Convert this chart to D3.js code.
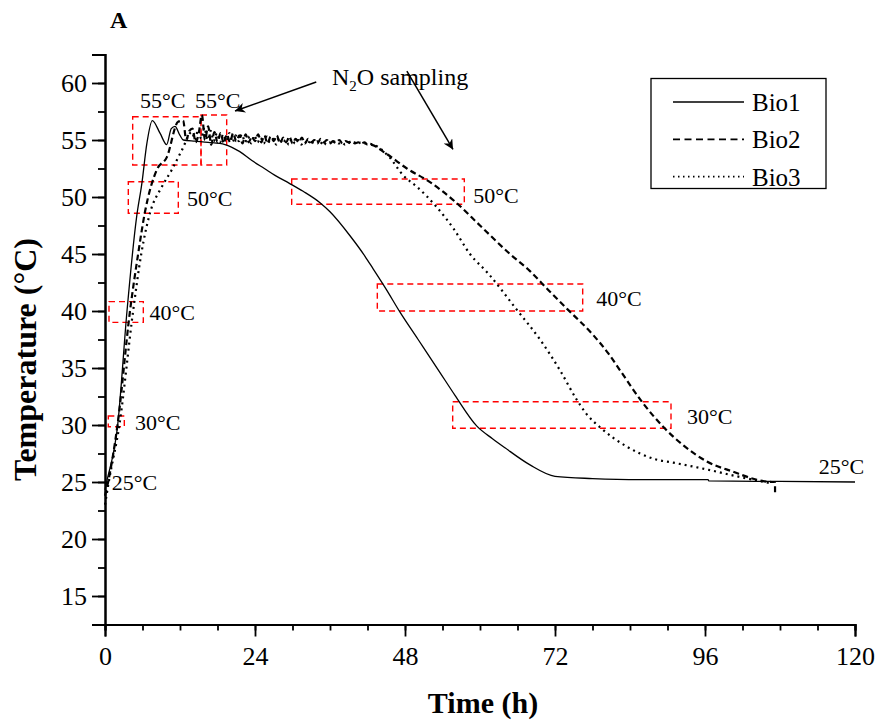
<!DOCTYPE html>
<html>
<head>
<meta charset="utf-8">
<script src="https://cdn.jsdelivr.net/npm/d3@7"></script>
<style>
  html, body { margin: 0; padding: 0; background: #fff; }
  svg { display: block; font-family: "Liberation Serif", "Times New Roman", serif; }
</style>
</head>
<body>
<svg id="chart" width="876" height="724"></svg>
<script>
// ---------------- DATA ----------------
const seriesNames = ["Bio1", "Bio2", "Bio3"];

const bio1Time = [0, 0.27, 2.03, 3.52, 5.07, 5.9, 6.7, 7.57, 8.8, 9.87, 10.6, 11.2, 12.0, 12.53, 14.4, 16.5, 19.2, 21.5, 23.5, 25.5, 27.2, 29.5, 31.7, 34.4, 36, 39.2, 41.6, 42.9, 45, 47.2, 50.1, 53.6, 56, 59.5, 62, 64.0, 68, 72, 78, 85.6, 96.5, 96.6, 108, 120];
const bio1Temp = [24.3, 25.0, 30.0, 40.0, 48.3, 51.2, 54.7, 56.7, 55.6, 54.6, 56.0, 56.2, 55.4, 55.0, 54.9, 54.8, 54.6, 54.0, 53.2, 52.5, 51.9, 51.2, 50.5, 49.5, 48.7, 46.6, 44.8, 43.7, 41.9, 39.9, 37.5, 34.6, 32.6, 29.9, 28.8, 28.0, 26.5, 25.5, 25.3, 25.2, 25.2, 25.1, 25.05, 25.0];

const bio2Time = [0, 0.5, 2.0, 4.0, 5.3, 6.4, 8.3, 9.9, 11.7, 12.5,
  13.0, 13.5, 14.0, 14.5, 15.0, 15.5, 16.0, 16.5, 17.0, 17.5, 18.0, 18.5, 19.0, 19.5, 20.0, 20.5, 21.0, 21.5, 22.0, 22.5,
  23.0, 23.5, 24.0, 24.5, 25.0, 25.5, 26.0, 26.5, 27.0, 27.5, 28.0, 28.5, 29.0, 29.5, 30.0, 30.5, 31.0, 31.5, 32.0, 32.5,
  33.0, 33.5, 34.0, 34.5, 35.0, 35.5, 36.0, 36.5, 37.0, 37.5, 38.0, 38.5, 39.0, 39.5, 40.0, 40.5, 41.0, 41.5, 42.0, 42.4,
  45, 48.3, 52, 56, 60, 64.8, 68, 71, 74.1, 78.1, 80.5, 82.4, 86.1, 89.3, 92.8, 96.3, 100.5, 104.3, 106.7, 107.2, 107.21];
const bio2Temp = [23.8, 25.0, 30.0, 40.0, 45.0, 48.7, 52.4, 53.5, 56.6, 56.7,
  55.0, 55.8, 56.0, 54.8, 55.6, 57.2, 55.0, 56.2, 54.6, 55.7, 54.8, 55.6, 54.7, 55.5, 54.8, 55.6, 54.9, 55.4, 54.7, 55.5,
  54.8, 55.3, 54.9, 55.5, 54.8, 55.4, 54.7, 55.3, 54.9, 55.4, 54.7, 55.2, 54.8, 55.3, 54.7, 55.1, 54.8, 55.2, 54.7, 55.1,
  54.8, 55.0, 54.7, 55.1, 54.8, 55.0, 54.7, 54.9, 54.8, 55.0, 54.7, 54.9, 54.8, 54.9, 54.7, 54.8, 54.7, 54.8, 54.6, 54.6,
  53.8, 52.5, 51.3, 49.6, 47.5, 45.0, 43.5, 41.8, 40.1, 37.9, 36.3, 34.8, 31.9, 29.85, 28.1, 26.8, 25.9, 25.2, 25.0, 25.0, 24.0];

const bio3Time = [0, 0.6, 2.3, 4.5, 5.8, 7.2, 9.1, 10.7, 12.3,
  13.9, 14.4, 14.9, 15.4, 15.9, 16.4, 16.9, 17.4, 17.9, 18.4, 18.9, 19.4, 19.9, 20.4, 20.9, 21.4, 21.9, 22.4, 22.9, 23.4,
  23.9, 24.4, 24.9, 25.4, 25.9, 26.4, 26.9, 27.4, 27.9, 28.4, 28.9, 29.4, 29.9, 30.4, 30.9, 31.4, 31.9, 32.4, 32.9, 33.4,
  33.9, 34.4, 34.9, 35.4, 35.9, 36.4, 36.9, 37.4, 37.9, 38.4, 38.9, 39.4, 39.9, 40.4, 40.9, 41.4, 41.9, 42.9,
  45.5, 47.7, 49.9, 53.1, 55.8, 58.4, 61.3, 65.9, 69.6, 72.8, 75.5, 77, 79.2, 83.5, 85.6, 88, 90.9, 96.3, 101.1, 106.4];
const bio3Temp = [23.0, 25.0, 30.0, 40.0, 45.0, 48.6, 50.9, 52.4, 54.1,
  55.7, 55.0, 55.9, 55.1, 56.1, 55.0, 55.8, 54.9, 55.6, 54.8, 55.5, 54.9, 55.6, 54.8, 55.4, 54.9, 55.5, 54.8, 55.3, 54.7,
  55.4, 54.8, 55.2, 54.7, 55.3, 54.8, 55.1, 54.6, 55.2, 54.7, 55.0, 54.6, 55.1, 54.7, 55.0, 54.6, 54.9, 54.6, 55.0, 54.7,
  54.9, 54.6, 54.9, 54.6, 54.8, 54.6, 54.9, 54.7, 54.8, 54.6, 54.8, 54.7, 54.8, 54.6, 54.8, 54.7, 54.7, 54.6,
  53.5, 51.9, 50.9, 49.1, 47.2, 45.0, 43.3, 40.1, 37.5, 34.8, 32.2, 31.0, 29.8, 28.1, 27.5, 27.0, 26.7, 26.1, 25.5, 24.9];

const xTickValues = [0, 24, 48, 72, 96, 120];
const yTickValues = [15, 20, 25, 30, 35, 40, 45, 50, 55, 60];

// annotation boxes: [t0, t1, Tlow, Thigh]
const boxT0 = [4.43, 15.36, 3.73, 0.64, 0.53, 29.87, 43.57, 55.63];
const boxT1 = [15.36, 19.47, 11.73, 6.13, 3.09, 57.49, 76.43, 90.56];
const boxLow = [52.81, 52.81, 48.57, 39.0, 29.85, 49.36, 40.0, 29.71];
const boxHigh = [57.04, 57.19, 51.34, 40.82, 30.79, 51.58, 42.37, 32.04];

// temperature labels
const labelText = ["55°C", "55°C", "50°C", "40°C", "30°C", "25°C", "50°C", "40°C", "30°C", "25°C"];
const labelTime = [5.6, 14.4, 13.1, 7.1, 4.8, 1.07, 58.9, 78.6, 93.1, 114.2];
const labelTemp = [57.8, 57.8, 49.2, 39.2, 29.56, 24.3, 49.5, 40.4, 30.1, 25.7];

// ---------------- CHART ----------------
const svg = d3.select("#chart");
const mLeft = 105, mRight = 855, mTop = 54.5, mBottom = 624.5;

const x = d3.scaleLinear().domain([0, 120]).range([mLeft, mRight]);
const y = d3.scaleLinear().domain([12.5, 62.5]).range([mBottom, mTop]);

const black = "#000";

// axes
const xAxisMinor = d3.axisBottom(x).tickValues(d3.range(0, 121, 6)).tickSize(6).tickFormat("");
const xAxis = d3.axisBottom(x).tickValues(xTickValues).tickSize(12).tickPadding(10).tickFormat(d3.format("d"));
const yAxisMinor = d3.axisLeft(y).tickValues(d3.range(12.5, 62.6, 2.5)).tickSize(7).tickFormat("");
const yAxis = d3.axisLeft(y).tickValues(yTickValues).tickSize(13).tickPadding(5).tickFormat(d3.format("d"));

function styleAxis(g) {
  g.select(".domain").attr("stroke", black).attr("stroke-width", 2);
  g.selectAll(".tick line").attr("stroke", black).attr("stroke-width", 1.8);
  g.selectAll(".tick text").attr("fill", black).style("font-family", "'Liberation Serif', serif").style("font-size", "26px");
}

svg.append("g").attr("transform", `translate(0,${mBottom})`).call(xAxisMinor).call(styleAxis);
svg.append("g").attr("transform", `translate(0,${mBottom})`).call(xAxis).call(styleAxis)
  .selectAll(".tick text").attr("dy", "0.71em");
svg.append("g").attr("transform", `translate(${mLeft},0)`).call(yAxisMinor).call(styleAxis);
svg.append("g").attr("transform", `translate(${mLeft},0)`).call(yAxis).call(styleAxis);

// axis titles
svg.append("text").attr("x", (mLeft + mRight) / 2 + 3).attr("y", 713)
  .attr("text-anchor", "middle").style("font-size", "30px").style("font-weight", "bold")
  .text("Time (h)");
svg.append("text").attr("transform", `translate(36,${(mTop + mBottom) / 2 + 20}) rotate(-90)`)
  .attr("text-anchor", "middle").style("font-size", "32px").style("font-weight", "bold")
  .text("Temperature (°C)");
svg.append("text").attr("x", 110).attr("y", 28).style("font-size", "24px").style("font-weight", "bold").text("A");

// red boxes
const boxG = svg.append("g");
boxT0.forEach((t0, i) => {
  boxG.append("rect")
    .attr("x", x(t0)).attr("y", y(boxHigh[i]))
    .attr("width", x(boxT1[i]) - x(t0)).attr("height", y(boxLow[i]) - y(boxHigh[i]))
    .attr("fill", "none").attr("stroke", "#ff0000").attr("stroke-width", 1.4)
    .attr("stroke-dasharray", "6,4");
});

// lines
const series = [
  { name: seriesNames[0], t: bio1Time, v: bio1Temp, dash: null, w: 1.3 },
  { name: seriesNames[1], t: bio2Time, v: bio2Temp, dash: "6,3.5", w: 2.2 },
  { name: seriesNames[2], t: bio3Time, v: bio3Temp, dash: "2,4", w: 2.2 }
];
const line = d3.line().x(d => x(d[0])).y(d => y(d[1])).curve(d3.curveMonotoneX);
series.forEach(s => {
  const pts = s.t.map((t, i) => [t, s.v[i]]);
  const p = svg.append("path").datum(pts).attr("d", line)
    .attr("fill", "none").attr("stroke", black).attr("stroke-width", s.w);
  if (s.dash) p.attr("stroke-dasharray", s.dash);
});

// temperature labels
labelText.forEach((txt, i) => {
  svg.append("text").attr("x", x(labelTime[i])).attr("y", y(labelTemp[i]))
    .style("font-size", "22px").attr("fill", black).text(txt);
});

// N2O sampling annotation
const n2o = svg.append("text").attr("x", 332).attr("y", 85).style("font-size", "24px");
n2o.append("tspan").text("N");
n2o.append("tspan").attr("dy", 6).style("font-size", "15px").text("2");
n2o.append("tspan").attr("dy", -6).text("O sampling");

svg.append("defs").append("marker").attr("id", "arrow")
  .attr("viewBox", "0 0 10 10").attr("refX", 10).attr("refY", 5)
  .attr("markerWidth", 14).attr("markerHeight", 10).attr("markerUnits", "userSpaceOnUse")
  .attr("orient", "auto")
  .append("path").attr("d", "M0,0 L10,5 L0,10 L3,5 Z").attr("fill", black);

const arrows = [[33.8, 60.09, 20.8, 57.54], [48.3, 61.05, 55.68, 54.17]];
arrows.forEach(a => {
  svg.append("line").attr("x1", x(a[0])).attr("y1", y(a[1])).attr("x2", x(a[2])).attr("y2", y(a[3]))
    .attr("stroke", black).attr("stroke-width", 1.5).attr("marker-end", "url(#arrow)");
});

// legend
const lg = svg.append("g");
lg.append("rect").attr("x", 651).attr("y", 78.5).attr("width", 175).attr("height", 110)
  .attr("fill", "#fff").attr("stroke", black).attr("stroke-width", 1.3);
series.forEach((s, i) => {
  const yy = 102 + i * 37.3;
  const l = lg.append("line").attr("x1", 673).attr("x2", 744).attr("y1", yy).attr("y2", yy)
    .attr("stroke", black).attr("stroke-width", s.dash ? 1.8 : 1.3);
  if (s.dash) l.attr("stroke-dasharray", i === 1 ? "7,4.5" : "1.5,3.5");
  lg.append("text").attr("x", 752).attr("y", yy + 9).style("font-size", "25px").text(s.name);
});
</script>
</body>
</html>
